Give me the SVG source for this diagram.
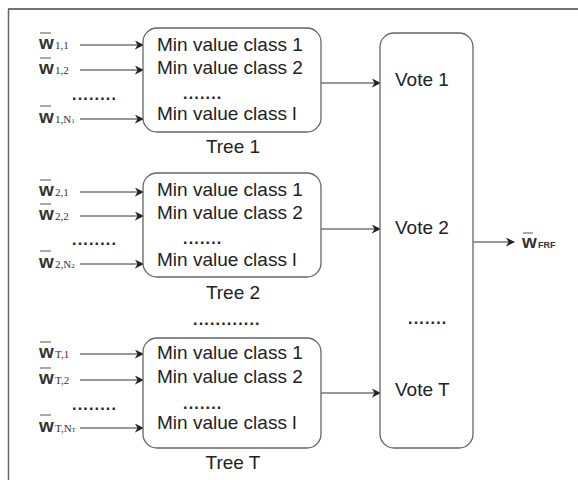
<svg xmlns="http://www.w3.org/2000/svg" width="578" height="480" viewBox="0 0 578 480">
<style>
.box{fill:#fff;stroke:#666;stroke-width:1.3}
.t{font-family:"Liberation Sans",Arial,sans-serif;font-size:19px;fill:#222}
.c{text-anchor:middle}
.w{font-family:"Liberation Sans",Arial,sans-serif;font-size:19px;font-weight:bold;fill:#333}
.s{font-family:"Liberation Serif","Times New Roman",serif;font-size:11px;fill:#333}
.sf{font-family:"Liberation Sans",Arial,sans-serif;font-size:9px;fill:#333;font-weight:bold}
.ol{stroke:#555;stroke-width:1}
.e{stroke:#333;stroke-width:1.2;fill:none;marker-end:url(#ah)}
.d{font-family:"Liberation Sans",Arial,sans-serif;font-size:16px;font-weight:bold;fill:#222;letter-spacing:1.2px}
</style>
<defs>
<marker id="ah" viewBox="0 0 10 10" refX="9" refY="5" markerWidth="9" markerHeight="9" markerUnits="userSpaceOnUse" orient="auto">
<path d="M0,0 L10,5 L0,10 L3,5 z" fill="#222"/>
</marker>
</defs>
<rect width="578" height="480" fill="#fff"/>
<g id="frame">
<line x1="8" y1="9" x2="578" y2="9" stroke="#444" stroke-width="1.5"/>
<line x1="8.5" y1="9" x2="8.5" y2="480" stroke="#666" stroke-width="1.5"/>
</g>
<g id="connectors">
<line class="e" x1="80" y1="45" x2="143" y2="45"/>
<line class="e" x1="80" y1="70" x2="143" y2="70"/>
<line class="e" x1="80" y1="119" x2="143" y2="119"/>
<line class="e" x1="80" y1="192" x2="143" y2="192"/>
<line class="e" x1="80" y1="216" x2="143" y2="216"/>
<line class="e" x1="80" y1="264" x2="143" y2="264"/>
<line class="e" x1="80" y1="354" x2="143" y2="354"/>
<line class="e" x1="80" y1="380" x2="143" y2="380"/>
<line class="e" x1="80" y1="428" x2="143" y2="428"/>
<line class="e" x1="321" y1="83" x2="380" y2="83"/>
<line class="e" x1="321" y1="229" x2="380" y2="229"/>
<line class="e" x1="321" y1="393" x2="380" y2="393"/>
<line class="e" x1="473" y1="242" x2="514" y2="242"/>
</g>
<g id="inputs1">
<line class="ol" x1="40" y1="33" x2="51" y2="33"/><text class="w" x="39" y="49">w</text><text class="s" x="55" y="49">1,1</text>
<line class="ol" x1="40" y1="58" x2="51" y2="58"/><text class="w" x="39" y="74">w</text><text class="s" x="55" y="74">1,2</text>
<text class="d" x="72" y="100">........</text>
<line class="ol" x1="40" y1="106" x2="51" y2="106"/><text class="w" x="39" y="123">w</text><text class="s" x="55" y="123">1,N<tspan font-size="7">1</tspan></text>
</g>
<g id="inputs2">
<line class="ol" x1="40" y1="180" x2="51" y2="180"/><text class="w" x="39" y="196">w</text><text class="s" x="55" y="196">2,1</text>
<line class="ol" x1="40" y1="204" x2="51" y2="204"/><text class="w" x="39" y="220">w</text><text class="s" x="55" y="220">2,2</text>
<text class="d" x="72" y="245">........</text>
<line class="ol" x1="40" y1="251" x2="51" y2="251"/><text class="w" x="39" y="268">w</text><text class="s" x="55" y="268">2,N<tspan font-size="7">2</tspan></text>
</g>
<g id="inputsT">
<line class="ol" x1="40" y1="342" x2="51" y2="342"/><text class="w" x="39" y="358">w</text><text class="s" x="55" y="358">T,1</text>
<line class="ol" x1="40" y1="368" x2="51" y2="368"/><text class="w" x="39" y="384">w</text><text class="s" x="55" y="384">T,2</text>
<text class="d" x="72" y="410">........</text>
<line class="ol" x1="40" y1="415" x2="51" y2="415"/><text class="w" x="39" y="432">w</text><text class="s" x="55" y="432">T,N<tspan font-size="7">T</tspan></text>
</g>
<g id="tree1">
<rect class="box" x="143" y="28" width="178" height="104" rx="14"/>
<text class="t" x="157" y="51">Min value class 1</text>
<text class="t" x="157" y="74">Min value class 2</text>
<text class="d" x="183" y="99">.......</text>
<text class="t" x="157" y="120">Min value class l</text>
<text class="t c" x="233" y="153">Tree 1</text>
</g>
<g id="tree2">
<rect class="box" x="143" y="173" width="178" height="104" rx="14"/>
<text class="t" x="157" y="196">Min value class 1</text>
<text class="t" x="157" y="219">Min value class 2</text>
<text class="d" x="183" y="244">.......</text>
<text class="t" x="157" y="266">Min value class l</text>
<text class="t c" x="233" y="299">Tree 2</text>
</g>
<g id="middots">
<text class="d" x="193" y="325" letter-spacing="1.8">............</text>
</g>
<g id="treeT">
<rect class="box" x="143" y="338" width="178" height="110" rx="14"/>
<text class="t" x="157" y="359">Min value class 1</text>
<text class="t" x="157" y="383">Min value class 2</text>
<text class="d" x="183" y="409">.......</text>
<text class="t" x="157" y="429">Min value class l</text>
<text class="t c" x="233" y="469">Tree T</text>
</g>
<g id="vote">
<rect class="box" x="380" y="33" width="93" height="415" rx="14"/>
<text class="t" x="395" y="86">Vote 1</text>
<text class="t" x="395" y="234">Vote 2</text>
<text class="d" x="408" y="324" letter-spacing="1.5">.......</text>
<text class="t" x="395" y="396">Vote T</text>
</g>
<g id="output">
<line class="ol" x1="523" y1="233" x2="533" y2="233"/><text class="w" x="522" y="248">w</text><text class="sf" x="538" y="248">FRF</text>
</g>
</svg>
